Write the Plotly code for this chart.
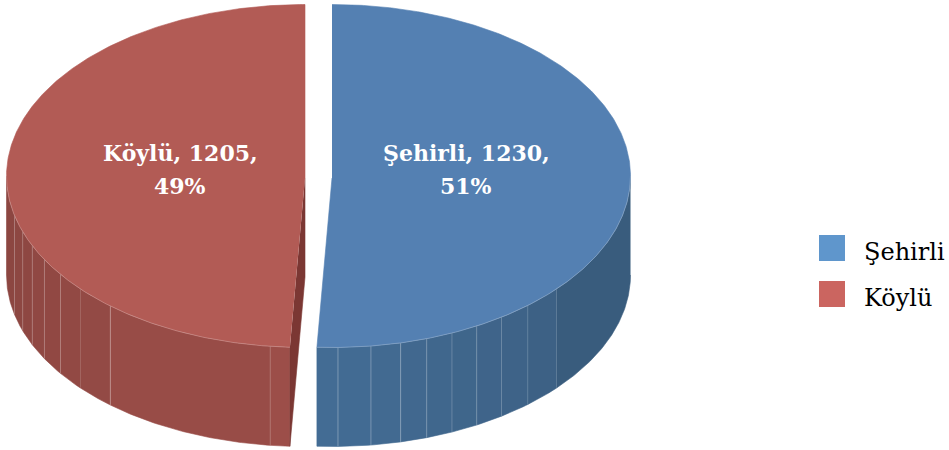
import numpy as np
import plotly.graph_objects as go

# ---- data ----
categories = ["Şehirli", "Köylü"]
values = [1230, 1205]

# ---- style / geometry ----
FONT = "DejaVu Serif"
W, H = 949, 450
RX, RY = 298.5, 171.5
CY = 176
DEPTH = 99
CENTERS_X = [332, 305]
SKEW = 1.05                  # projection shift of the seam between slices, degrees
TOP = ["#5480B2", "#B25B55"]
LEGEND = ["#5F96CC", "#CB6560"]
INNER = "#7B3733"
WALL_NEAR = [(67, 108, 148), (157, 79, 73)]
WALL_FAR = [(56, 89, 122), (140, 70, 65)]
# facet seams, degrees from the front point of the pie
SEAMS = [[1.15, 7.5, 13.3, 18.5, 23.7, 29, 34.6, 41, 48.8],
         [6.7, 40.7, 48.8, 55, 60.8, 66, 71, 76.7]]
SEAM_ALPHA = [[.3, .28, .28, .22, .2, .2, .15, .12, .08],
              [.15, .3, .05, .22, .2, .2, .2, .2]]

total = sum(values)
shares = [v / total for v in values]
pct = [round(s * 100) for s in shares]
seam = 360 * shares[0] + SKEW


def pt(cx, deg, dy=0.0):
    t = np.radians(deg)
    return cx + RX * np.sin(t), CY - RY * np.cos(t) + dy


def arc(cx, a, b, dy=0.0, n=None):
    n = n or max(int(abs(b - a) * 2), 2)
    return pt(cx, np.linspace(a, b, n), dy)


fig = go.Figure()


def poly(x, y, color, name=None):
    fig.add_trace(go.Scatter(x=list(x), y=list(y), mode="lines", fill="toself", fillcolor=color,
                             line=dict(color=color, width=0.6), hoverinfo="skip", showlegend=False))


def rgb(c):
    return "rgb(%d,%d,%d)" % tuple(int(round(v)) for v in c)


def wall(i, a, b, front):
    cx = CENTERS_X[i]
    bounds = sorted([a, b] + [front + s * (1 if i else -1) for s in SEAMS[i]])
    for p, q in zip(bounds[:-1], bounds[1:]):
        mid = abs((p + q) / 2 - 180)
        f = min(mid / 80, 1)
        col = [n + (m - n) * f for n, m in zip(WALL_NEAR[i], WALL_FAR[i])]
        x1, y1 = arc(cx, p, q)
        x2, y2 = arc(cx, q, p, DEPTH)
        poly(np.r_[x1, x2], np.r_[y1, y2], rgb(col))
    for s, al in zip(SEAMS[i], SEAM_ALPHA[i]):
        d = front + s * (1 if i else -1)
        x0, y0 = pt(cx, d)
        fig.add_trace(go.Scatter(x=[x0, x0], y=[y0, y0 + DEPTH], mode="lines",
                                 line=dict(color=f"rgba(255,255,255,{al})", width=1),
                                 hoverinfo="skip", showlegend=False))


# walls
wall(0, 90, seam, 180)
wall(1, seam, 270, 180)

# inner cut face of the red slice
xe, ye = pt(CENTERS_X[1], seam)
poly([CENTERS_X[1], CENTERS_X[1], xe, xe], [CY + 2, CY + 2 + DEPTH, ye + DEPTH, ye], INNER)

# top faces
spans = [(0, seam), (seam, 360)]
for i, (a, b) in enumerate(spans):
    cx = CENTERS_X[i]
    x, y = arc(cx, a, b)
    poly(np.r_[x, cx], np.r_[y, CY + 2], TOP[i])
    # rim highlight on the near half only
    lo, hi = (90, seam) if i == 0 else (seam, 270)
    rx, ry = arc(cx, lo, hi)
    fig.add_trace(go.Scatter(x=rx, y=ry, mode="lines", line=dict(color="rgba(255,255,255,0.22)", width=1),
                             hoverinfo="skip", showlegend=False))

# labels
label_x = [466, 180]
anns = []
for i in range(2):
    for txt, yy in ((f"{categories[i]}, {values[i]},", 153), (f"{pct[i]}%", 186)):
        anns.append(dict(x=label_x[i], y=yy, text=f"<b>{txt}</b>", showarrow=False, xref="x", yref="y",
                         xanchor="center", yanchor="middle",
                         font=dict(family=FONT, size=22, color="white")))

# legend
shapes = []
for i, yy in enumerate((235, 281)):
    shapes.append(dict(type="rect", xref="x", yref="y", x0=819, x1=845, y0=yy, y1=yy + 26,
                       fillcolor=LEGEND[i], line=dict(width=0)))
    anns.append(dict(x=862, y=yy + 17, text=categories[i], showarrow=False, xref="x", yref="y",
                     xanchor="left", yanchor="middle",
                     font=dict(family=FONT, size=24, color="black")))

fig.update_layout(width=W, height=H, autosize=False, margin=dict(l=0, r=0, t=0, b=0),
                  paper_bgcolor="white", plot_bgcolor="white", showlegend=False,
                  annotations=anns, shapes=shapes,
                  xaxis=dict(range=[0, W], visible=False, fixedrange=True),
                  yaxis=dict(range=[H, 0], visible=False, fixedrange=True))

fig.write_html("out.html", config=dict(displayModeBar=False),
               post_script="document.body.style.margin='0';document.body.style.overflow='hidden';")
